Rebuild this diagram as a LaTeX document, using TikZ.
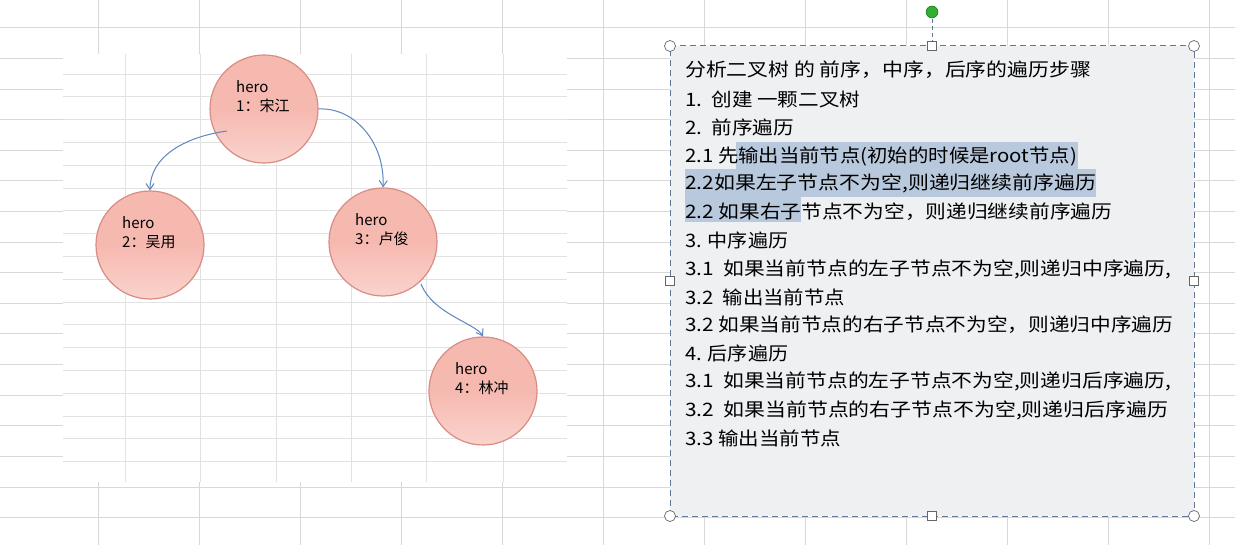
\documentclass[tikz,border=0pt]{standalone}
\usepackage{fontspec}
\usepackage{graphicx}
\setmainfont{Noto Sans CJK SC}
\usetikzlibrary{calc,arrows.meta}
\definecolor{gridc}{HTML}{D8D8D8}
\definecolor{innerg}{HTML}{E2E2E2}
\definecolor{circb}{HTML}{D98C84}
\definecolor{circt}{HTML}{FAD3CD}
\definecolor{circm}{HTML}{F6B9B0}
\definecolor{arrc}{HTML}{5B86C0}
\definecolor{boxf}{HTML}{EFF0F2}
\definecolor{boxd}{HTML}{5F7896}
\definecolor{hil}{HTML}{B9C9DD}
\newcommand\fitw[2]{\resizebox{#1pt}{\height}{#2}}
\tikzset{
  hero/.style={circle,draw=circb,line width=1.2pt,minimum width=108pt,minimum height=108pt,inner sep=0pt,top color=circm,bottom color=circt,middle color=circm},
  herotext/.style={anchor=west,font=\fontsize{15}{16}\selectfont,align=left,text=black,inner sep=0pt},
  conn/.style={draw=arrc,line width=1pt,-{Straight Barb[length=6pt,width=8pt]}},
  handle/.style={draw=gray!80!black,fill=white,line width=0.7pt},
  line/.style={anchor=west,font=\fontsize{18.5}{20}\selectfont,inner sep=0pt,text=black}
}
\begin{document}
\begin{tikzpicture}[x=1pt,y=-1pt]
\useasboundingbox (0,0) rectangle (1235,545);
\fill[white] (0,0) rectangle (1235,545);
% outer spreadsheet grid
\foreach \i in {0,...,11}{\draw[gridc,line width=1pt] ({98+101*\i},0) -- ({98+101*\i},545);}
\foreach \j in {0,...,17}{\draw[gridc,line width=1pt] (0,{28+30.6*\j}) -- (1235,{28+30.6*\j});}
% inner picture
\fill[white] (63,54) rectangle (567,482);
\foreach \j in {0,...,17}{\draw[innerg,line width=0.8pt] (63,{74+22.8*\j}) -- (567,{74+22.8*\j});}
\foreach \x in {125,200,276,351,426,503}{\draw[innerg,line width=0.8pt] (\x,54) -- (\x,482);}
\fill[white] (63,465) rectangle (567,482);
\foreach \x in {125,200,276,351,426,503}{\draw[innerg,line width=0.8pt] (\x,463) -- (\x,482);}
% nodes
\node[hero] (n1) at (264,109) {};
\node[hero] (n2) at (150,245) {};
\node[hero] (n3) at (383,242) {};
\node[hero] (n4) at (483,391) {};
\node[herotext] (t1) at ($(n1)+(-28,-12)$) {hero\\[3pt]1：宋江};
\node[herotext] (t2) at ($(n2)+(-28,-12)$) {hero\\[3pt]2：吴用};
\node[herotext] (t3) at ($(n3)+(-28,-12)$) {hero\\[3pt]3：卢俊};
\node[herotext] (t4) at ($(n4)+(-28,-12)$) {hero\\[3pt]4：林冲};
% connectors
\draw[conn] ($(n1)+(-37,22)$) .. controls ($(n1)+(-80,28)$) and ($(n2)+(0,-88)$) .. (n2.north);
\draw[conn] (n1.east) .. controls ($(n1)+(90,-2)$) and ($(n3)+(2,-100)$) .. (n3.north);
\draw[conn] ($(n3)+(38,42)$) .. controls ($(n3)+(50,72)$) and ($(n4)+(-8,-68)$) .. (n4.north);
% text box
\coordinate (bl) at (670,516);
\coordinate (tr) at (1194,46);
\fill[boxf] (bl) rectangle (tr);
\fill[hil] (736,142) rectangle (1078,169);
\fill[hil] (685,169) rectangle (1096,197);
\fill[hil] (685,197) rectangle (801,222);
\draw[boxd,line width=1pt,dash pattern=on 6pt off 4pt] (bl) rectangle (tr);
\coordinate (rot) at (932,12);
\draw[boxd,line width=1pt,dash pattern=on 4pt off 3pt] (rot) -- (932,46);
\fill[green!60!black!80,draw=green!40!black] (rot) circle (6pt);
\foreach \x/\y in {670/46,1194/46,670/516,1194/516}{\draw[handle] (\x,\y) circle (5.5pt);}
\foreach \x/\y in {932/46,932/516,670/281,1194/281}{\draw[handle] ({\x-4.5},{\y-4.5}) rectangle ({\x+4.5},{\y+4.5});}
% text lines
\node[line] (l1) at (685,70) {\fitw{406}{分析二叉树 的 前序，中序，后序的遍历步骤}};
\node[line] (l2) at (685,99) {\fitw{175}{1.\ \ 创建 一颗二叉树}};
\node[line] (l3) at (685,127) {\fitw{109}{2.\ \ 前序遍历}};
\node[line] (l4) at (685,156) {\fitw{392}{2.1 先输出当前节点(初始的时候是root节点)}};
\node[line] (l5) at (685,183) {\fitw{411}{2.2如果左子节点不为空,则递归继续前序遍历}};
\node[line] (l6) at (685,212) {\fitw{427}{2.2 如果右子节点不为空，则递归继续前序遍历}};
\node[line] (l7) at (685,240) {\fitw{103}{3. 中序遍历}};
\node[line] (l8) at (685,269) {\fitw{486}{3.1\ \ 如果当前节点的左子节点不为空,则递归中序遍历,}};
\node[line] (l9) at (685,297) {\fitw{160}{3.2\ \ 输出当前节点}};
\node[line] (l10) at (685,325) {\fitw{488}{3.2 如果当前节点的右子节点不为空，则递归中序遍历}};
\node[line] (l11) at (685,353) {\fitw{103}{4. 后序遍历}};
\node[line] (l12) at (685,381) {\fitw{486}{3.1\ \ 如果当前节点的左子节点不为空,则递归后序遍历,}};
\node[line] (l13) at (685,410) {\fitw{483}{3.2\ \ 如果当前节点的右子节点不为空,则递归后序遍历}};
\node[line] (l14) at (685,438) {\fitw{156}{3.3 输出当前节点}};
\end{tikzpicture}
\end{document}
